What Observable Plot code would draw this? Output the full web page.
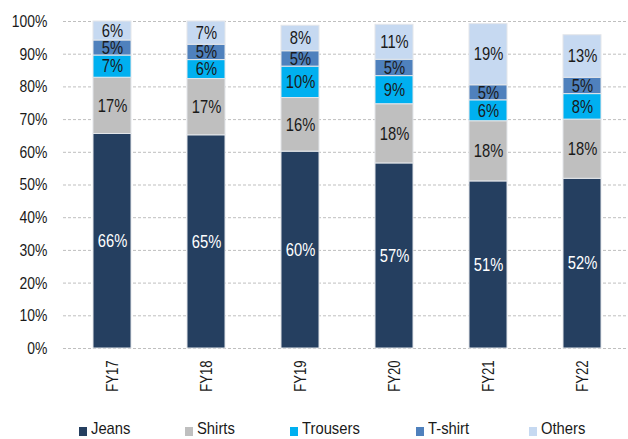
<!DOCTYPE html>
<html>
<head>
<meta charset="utf-8">
<script src="https://cdn.jsdelivr.net/npm/d3@7"></script>
<script src="https://cdn.jsdelivr.net/npm/@observablehq/plot@0.6"></script>
<style>
  html, body { margin: 0; padding: 0; background: #fff; }
  #wrap { position: relative; width: 628px; height: 439px; overflow: hidden;
    font-family: "Liberation Sans", Arial, sans-serif; color: #1a1a1a; }
  #chart { position: absolute; left: 0; top: 0; }
  .leg { position: absolute; top: 419px; display: flex; align-items: center; font-size: 17px; line-height: normal; white-space: nowrap; }
  .leg span.sw { display: inline-block; width: 8px; height: 9px; margin-right: 4px; position: relative; top: 2px; }
  .leg span.tx { display: inline-block; transform: scaleX(0.87); transform-origin: 0 50%; }
</style>
</head>
<body>
<div id="wrap">
  <div id="chart"></div>
  <div id="legend"></div>
</div>
<script>
const categories = ["FY17", "FY18", "FY19", "FY20", "FY21", "FY22"];
const seriesNames = ["Jeans", "Shirts", "Trousers", "T-shirt", "Others"];
const jeans    = [65.6, 65.2, 60.2, 56.6, 51.1, 51.9];
const shirts   = [17.2, 17.2, 16.4, 18.1, 18.4, 18.1];
const trousers = [6.8, 5.8, 9.6, 8.6, 6.4, 7.8];
const tshirt   = [4.6, 4.7, 4.7, 5.0, 4.6, 5.0];
const others   = [5.8, 7.1, 7.8, 10.7, 18.7, 13.0];
const yTicks = [0, 10, 20, 30, 40, 50, 60, 70, 80, 90, 100];
const colors = ["#253F60", "#BFBFBF", "#00B0F0", "#4F81BD", "#C6D9F1"];
const textColors = ["#ffffff", "#1a1a1a", "#1a1a1a", "#1a1a1a", "#1a1a1a"];

const seriesValues = [jeans, shirts, trousers, tshirt, others];
const data = [];
categories.forEach((c, i) => {
  seriesNames.forEach((s, j) => {
    data.push({category: c, series: s, value: seriesValues[j][i], label: Math.round(seriesValues[j][i]) + "%"});
  });
});

const chart = Plot.plot({
  width: 628,
  height: 400,
  marginLeft: 63,
  marginRight: -2,
  marginTop: 21,
  marginBottom: 52,
  style: {fontFamily: '"Liberation Sans", Arial, sans-serif', color: "#1a1a1a", background: "transparent"},
  x: {domain: categories, paddingInner: 0.6, paddingOuter: 0.3},
  y: {domain: [0, 100]},
  color: {domain: seriesNames, range: colors},
  marks: [
    Plot.gridY(yTicks, {stroke: "#bfbfbf", strokeOpacity: 1, strokeDasharray: "3,2"}),
    Plot.barY(data, Plot.stackY({x: "category", y: "value", z: "series", fill: "series", stroke: "#e3e6ea", strokeWidth: 1})),
    Plot.text(data, Plot.stackY({x: "category", y: "value", z: "series", text: "label",
      fill: d => textColors[seriesNames.indexOf(d.series)], fontSize: 18})),
    Plot.axisY(yTicks, {tickSize: 0, tickPadding: 16, tickFormat: d => d + "%", fontSize: 17, label: null}),
    Plot.axisX({tickSize: 0, tickPadding: 12, tickRotate: -90, fontSize: 16, label: null})
  ]
});
// Narrow the Liberation Sans glyphs horizontally to mimic Arial Narrow
chart.querySelectorAll("text").forEach(t => {
  const tr = t.getAttribute("transform") || "";
  const x = t.getAttribute("x");
  let extra = "";
  if (x !== null && isFinite(+x)) {
    extra = ` translate(${+x},0)`;
    t.removeAttribute("x");
  }
  t.setAttribute("transform", (tr + extra + " scale(0.82,1)").trim());
});
document.getElementById("chart").appendChild(chart);

const legendX = [79, 185, 290, 416, 529];
const legend = document.getElementById("legend");
seriesNames.forEach((s, j) => {
  const item = document.createElement("div");
  item.className = "leg";
  item.style.left = legendX[j] + "px";
  const sw = document.createElement("span");
  sw.className = "sw";
  sw.style.background = colors[j];
  const t = document.createElement("span");
  t.className = "tx";
  t.textContent = s;
  item.appendChild(sw);
  item.appendChild(t);
  legend.appendChild(item);
});
</script>
</body>
</html>
